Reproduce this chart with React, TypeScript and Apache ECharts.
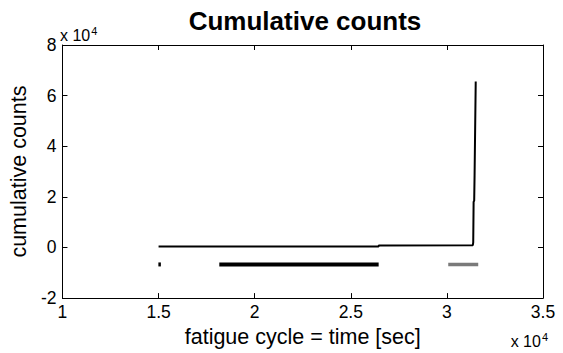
import React, { useEffect, useRef } from "react";
import * as echarts from "echarts";

const xTicks = [10000, 15000, 20000, 25000, 30000, 35000];
const yTicks = [-20000, 0, 20000, 40000, 60000, 80000];

// cumulative counts curve (x = time [sec], y = counts)
const cumX = [15000, 26450, 26450, 31350, 31370, 31390, 31420, 31440, 31500];
const cumY = [400, 400, 800, 900, 2000, 18000, 18500, 28300, 65600];

// event markers drawn at a fixed level below zero
const markerLevel = -6700;
const markSmall = [14990, 15120];
const markBlack = [18160, 26450];
const markGray = [30070, 31630];

export default function App() {
  const ref = useRef<HTMLDivElement>(null);
  useEffect(() => {
    if (!ref.current) return;
    const chart = echarts.init(ref.current, undefined, { renderer: "svg" });
    const font = "'Liberation Sans', Arial, sans-serif";
    const axisCommon = {
      axisLine: { show: true, onZero: false, lineStyle: { color: "#000", width: 1 } },
      axisTick: { show: true, inside: true, length: 5, lineStyle: { color: "#000" } },
      splitLine: { show: false },
    };
    const fmt = (v: number) => String(v / 1e4);
    const expStyle = (x: number, y: number, align: string) => ({
      type: "text",
      x,
      y,
      style: {
        text: "x 10{s|4}",
        rich: { s: { fontSize: 11, fontFamily: font, fill: "#000", padding: [0, 0, 9, 1] } },
        fontFamily: font,
        fontSize: 16,
        fill: "#000",
        textAlign: align,
        textVerticalAlign: "bottom",
      } as any,
    });
    chart.setOption({
      animation: false,
      backgroundColor: "#fff",
      title: {
        text: "Cumulative counts",
        left: 300,
        textAlign: "center",
        top: 3,
        textStyle: { fontFamily: font, fontWeight: "bold", fontSize: 26, color: "#000" },
      },
      graphic: [expStyle(60, 45, "left"), expStyle(548, 351, "right")],
      grid: { left: 61, right: 20, top: 45, bottom: 52, show: false },
      xAxis: [
        {
          ...axisCommon,
          type: "value",
          min: xTicks[0],
          max: xTicks[xTicks.length - 1],
          interval: 5000,
          position: "bottom",
          axisLabel: { formatter: fmt, color: "#000", fontFamily: font, fontSize: 17.5, margin: 5 },
          name: "fatigue cycle = time [sec]",
          nameLocation: "middle",
          nameGap: 25,
          nameTextStyle: { fontFamily: font, fontSize: 21.5, color: "#000" },
        },
        {
          ...axisCommon,
          type: "value",
          min: xTicks[0],
          max: xTicks[xTicks.length - 1],
          interval: 5000,
          position: "top",
          axisLabel: { show: false },
        },
      ],
      yAxis: [
        {
          ...axisCommon,
          type: "value",
          min: yTicks[0],
          max: yTicks[yTicks.length - 1],
          interval: 20000,
          position: "left",
          axisLabel: { formatter: fmt, color: "#000", fontFamily: font, fontSize: 17.5, margin: 6 },
          name: "cumulative counts",
          nameLocation: "middle",
          nameGap: 22,
          nameTextStyle: { fontFamily: font, fontSize: 21.5, color: "#000" },
        },
        {
          ...axisCommon,
          type: "value",
          min: yTicks[0],
          max: yTicks[yTicks.length - 1],
          interval: 20000,
          position: "right",
          axisLabel: { show: false },
        },
      ],
      series: [
        {
          type: "line",
          data: cumX.map((x, i) => [x, cumY[i]]),
          showSymbol: false,
          symbol: "none",
          lineStyle: { color: "#000", width: 2 },
        },
        {
          type: "line",
          data: markSmall.map((x) => [x, markerLevel]),
          symbol: "none",
          lineStyle: { color: "#000", width: 4 },
        },
        {
          type: "line",
          data: markBlack.map((x) => [x, markerLevel]),
          symbol: "none",
          lineStyle: { color: "#000", width: 4 },
        },
        {
          type: "line",
          data: markGray.map((x) => [x, markerLevel]),
          symbol: "none",
          lineStyle: { color: "#7a7a7a", width: 3.5 },
        },
      ],
    });
    return () => chart.dispose();
  }, []);
  return <div ref={ref} style={{ width: 563, height: 353, position: "absolute", left: 0, top: 0 }} />;
}
